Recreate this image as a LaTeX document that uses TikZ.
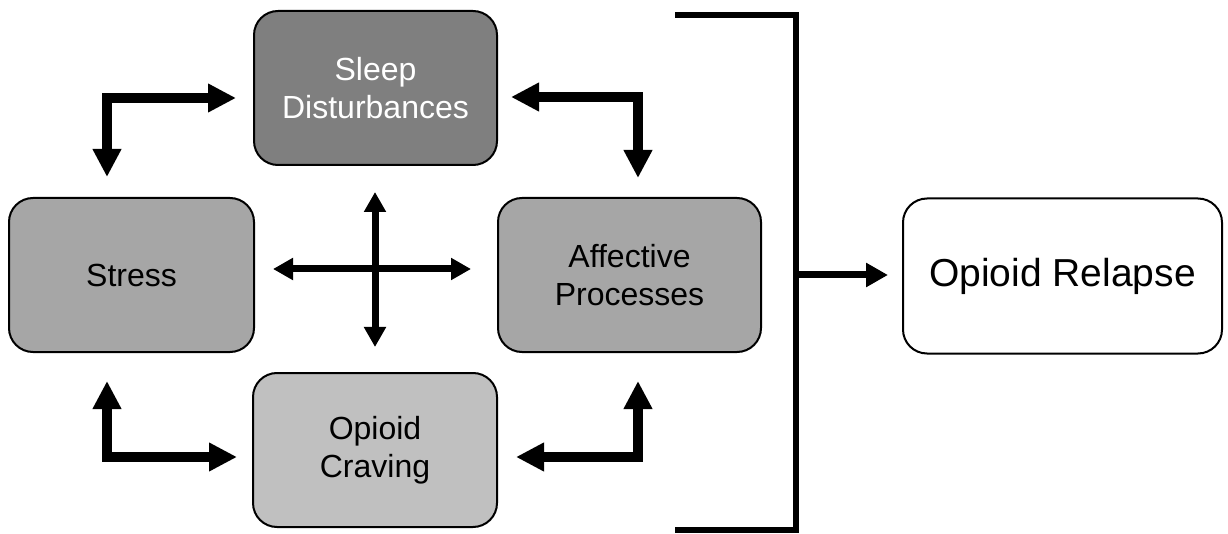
\documentclass[tikz,border=0pt]{standalone}
\usepackage{fontspec}
\setmainfont{Liberation Sans}
\usetikzlibrary{arrows.meta}
\definecolor{sleepgray}{HTML}{7F7F7F}
\definecolor{midgray}{HTML}{A6A6A6}
\definecolor{lightgray}{HTML}{C0C0C0}
\tikzset{
  box/.style={draw=black, line width=2pt, rounded corners=24pt, align=center,
    inner sep=0pt, font=\fontsize{32}{38}\selectfont},
  bigarrow/.style={line width=10pt, line join=miter,
    {Triangle[width=27pt,length=28pt]}-{Triangle[width=27pt,length=28pt]}},
  crossarrow/.style={line width=7pt,
    {Triangle[width=21pt,length=20pt]}-{Triangle[width=21pt,length=20pt]}},
  bracketline/.style={line width=6pt, line join=miter},
  outarrow/.style={line width=7pt, -{Triangle[width=23pt,length=22pt]}}
}
\begin{document}
\begin{tikzpicture}[x=1pt,y=-1pt]
\useasboundingbox (0,0) rectangle (1228,534);
% boxes
\node[box, fill=sleepgray, text=white, minimum width=243pt, minimum height=154pt] (sleep) at (375.5,88) {Sleep\\Disturbances};
\node[box, fill=midgray, minimum width=245pt, minimum height=154pt] (stress) at (131.5,275) {Stress};
\node[box, fill=midgray, minimum width=263pt, minimum height=154pt] (affect) at (629.5,275) {Affective\\Processes};
\node[box, fill=lightgray, minimum width=244pt, minimum height=154pt] (crave) at (375,450) {Opioid\\Craving};
\node[box, fill=white, minimum width=319pt, minimum height=155pt, font=\fontsize{39}{45}\selectfont] (relapse) at (1062.5,276) {Opioid Relapse};
% elbow arrow coordinates
\coordinate (tlA) at (236,98);
\coordinate (tlC) at (107,98);
\coordinate (tlB) at (107,177);
\coordinate (trA) at (511,97);
\coordinate (trC) at (638,97);
\coordinate (trB) at (638,178);
\coordinate (blA) at (107,381);
\coordinate (blC) at (107,457);
\coordinate (blB) at (237,457);
\coordinate (brA) at (516,457);
\coordinate (brC) at (638,457);
\coordinate (brB) at (638,381);
\draw[bigarrow] (tlA) -- (tlC) -- (tlB);
\draw[bigarrow] (trA) -- (trC) -- (trB);
\draw[bigarrow] (blA) -- (blC) -- (blB);
\draw[bigarrow] (brA) -- (brC) -- (brB);
% cross
\coordinate (cT) at (375,192);
\coordinate (cB) at (375,347);
\coordinate (cL) at (273,269);
\coordinate (cR) at (471,269);
\draw[crossarrow] (cT) -- (cB);
\draw[crossarrow] (cL) -- (cR);
% bracket
\coordinate (bk1) at (675,15);
\coordinate (bk2) at (796,15);
\coordinate (bk3) at (796,530);
\coordinate (bk4) at (675,530);
\draw[bracketline] (bk1) -- (bk2) -- (bk3) -- (bk4);
\coordinate (bkOut) at (799,275);
\coordinate (bkTip) at (888,275);
\draw[outarrow] (bkOut) -- (bkTip);
\end{tikzpicture}
\end{document}
